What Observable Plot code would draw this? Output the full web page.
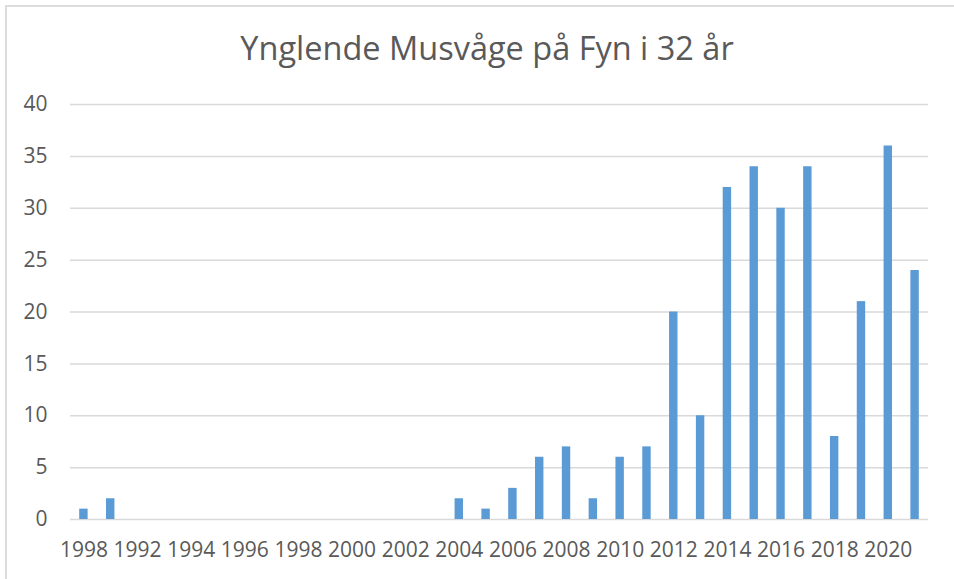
<!DOCTYPE html>
<html>
<head>
<meta charset="utf-8">
<script src="https://cdn.jsdelivr.net/npm/d3@7"></script>
<script src="https://cdn.jsdelivr.net/npm/@observablehq/plot@0.6"></script>
<style>
  html, body { margin: 0; padding: 0; background: #fff; overflow: hidden; }
  #wrap { position: relative; width: 954px; height: 579px; font-family: "Open Sans", sans-serif; }
  #frame { position: absolute; left: 5px; top: 5px; width: 2000px; height: 2000px;
           border-top: 2px solid #dcdcdc; border-left: 2px solid #dcdcdc; box-sizing: border-box; }
  #title { position: absolute; left: 0; top: 0; width: 974px; height: 80px; text-align: center;
           font-size: 32.5px; color: #595959; line-height: 1; padding-top: 32px; box-sizing: border-box; }
  #chart { position: absolute; left: 0; top: 80px; }
</style>
</head>
<body>
<div id="wrap">
  <div id="frame"></div>
  <div id="title">Ynglende Musvåge på Fyn i 32 år</div>
  <div id="chart"></div>
</div>
<script>
const years = d3.range(1990, 2022);
const values = [1, 2, null, null, null, null, null, null, null, null, null, null, null, null,
                2, 1, 3, 6, 7, 2, 6, 7, 20, 10, 32, 34, 30, 34, 8, 21, 36, 24];
const tickLabels = ["1998", "1992", "1994", "1996", "1998", "2000", "2002", "2004",
                    "2006", "2008", "2010", "2012", "2014", "2016", "2018", "2020"];
const yTicks = [0, 5, 10, 15, 20, 25, 30, 35, 40];

const data = years.map((y, i) => ({year: y, value: values[i]}));
const tickYears = years.filter((y, i) => i % 2 === 0);
const labelOf = new Map(tickYears.map((y, i) => [y, tickLabels[i]]));

const chart = Plot.plot({
  width: 954,
  height: 499,
  marginLeft: 70,
  marginRight: 26,
  marginTop: 24,
  marginBottom: 60,
  style: {fontFamily: "Open Sans, sans-serif", fontSize: "21px", color: "#595959", background: "transparent"},
  x: {type: "band", domain: years, padding: 0, round: false, label: null},
  y: {domain: [0, 40], label: null},
  marks: [
    Plot.ruleY(yTicks, {stroke: "#d9d9d9", strokeWidth: 1.5}),
    Plot.barY(data.filter(d => d.value != null), {x: "year", y: "value", fill: "#5b9bd5", insetLeft: 9.2, insetRight: 9.2}),
    Plot.axisX({ticks: tickYears, tickFormat: d => labelOf.get(d), tickSize: 0, tickPadding: 23,
                fill: "#595959", fontSize: 21, label: null}),
    Plot.axisY({ticks: yTicks, tickSize: 0, tickPadding: 23, fill: "#595959", fontSize: 21, label: null})
  ]
});
document.getElementById("chart").appendChild(chart);
</script>
</body>
</html>
